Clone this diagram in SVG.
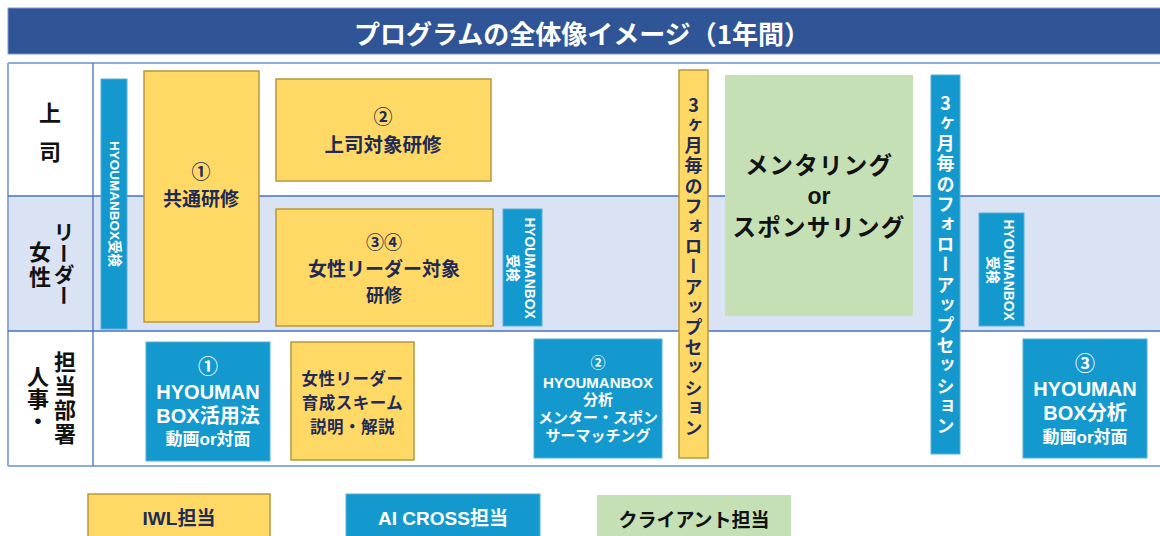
<svg xmlns="http://www.w3.org/2000/svg" width="1160" height="536" viewBox="0 0 1160 536">
<style>
.jp{font-family:"Noto Sans CJK JP","Noto Sans CJK SC",sans-serif;font-weight:bold}
.mx{font-family:"Liberation Sans","Noto Sans CJK JP",sans-serif;font-weight:bold}
.vt{writing-mode:vertical-rl;text-orientation:upright}
.yel{fill:#FFD966;stroke:#B8973D;stroke-width:1.5}
.blu{fill:#1399CE;stroke:#5AAEDB;stroke-width:1}
.grn{fill:#C5E0B4}
.navy{fill:#1F2A55}
.wht{fill:#FFFFFF}
.blk{fill:#111111}
.c{text-anchor:middle;dominant-baseline:central}
.line{stroke:#4472C4;stroke-width:1.3;fill:none}
.outer{stroke:#8FAADC;stroke-width:2;fill:none}
</style>
<rect width="1160" height="536" fill="#FFFFFF"/>
<g id="title">
<rect x="8" y="8" width="1160" height="46" fill="#2F5597" stroke="#7F9BD0" stroke-width="1"/>
<text class="jp c wht" x="582" y="32" font-size="26">プログラムの全体像イメージ（1年間）</text>
</g>
<g id="table">
<rect x="8" y="196" width="1160" height="135" fill="#DAE3F3"/>
<line class="outer" x1="8" y1="63" x2="1160" y2="63"/>
<line class="outer" x1="8" y1="63" x2="8" y2="466"/>
<line class="outer" x1="8" y1="466" x2="1160" y2="466"/>
<line class="line" x1="8" y1="196" x2="1160" y2="196"/>
<line class="line" x1="8" y1="331" x2="1160" y2="331"/>
<line class="line" x1="93" y1="63" x2="93" y2="466"/>
</g>
<g id="row-labels">
<text class="jp vt blk" x="50" y="102" font-size="22" letter-spacing="17">上司</text>
<text class="jp vt blk" x="64" y="222" font-size="21">リーダー</text>
<text class="jp vt blk" x="40" y="241" font-size="22" letter-spacing="3">女性</text>
<text class="jp vt blk" x="65" y="351" font-size="22" letter-spacing="2">担当部署</text>
<text class="jp vt blk" x="38" y="366" font-size="22">人事・</text>
</g>
<g id="hyoumanbox-left">
<rect class="blu" x="101" y="79" width="26" height="250"/>
<text class="mx c wht" transform="translate(114,204) rotate(90)" x="0" y="0" font-size="13.5">HYOUMANBOX受検</text>
</g>
<g id="kyotsu">
<rect class="yel" x="144" y="71" width="115" height="251"/>
<text class="jp c navy" x="201" y="170" font-size="19">①</text>
<text class="jp c navy" x="201" y="197.5" font-size="19">共通研修</text>
</g>
<g id="joshi">
<rect class="yel" x="276" y="79" width="215" height="102"/>
<text class="jp c navy" x="383" y="115.5" font-size="19">②</text>
<text class="jp c navy" x="383" y="143" font-size="19.5">上司対象研修</text>
</g>
<g id="josei-leader">
<rect class="yel" x="276" y="209" width="217" height="117"/>
<text class="jp c navy" x="384" y="240.5" font-size="18">③④</text>
<text class="jp c navy" x="384" y="267" font-size="19">女性リーダー対象</text>
<text class="jp c navy" x="384" y="294" font-size="18">研修</text>
</g>
<g id="hyoumanbox-mid">
<rect class="blu" x="503" y="209" width="39" height="117"/>
<text class="mx wht" transform="translate(521.5,268) rotate(90)" font-size="13.8" text-anchor="middle" dominant-baseline="central"><tspan x="0" y="-8.5">HYOUMANBOX</tspan><tspan x="0" y="8.5">受検</tspan></text>
</g>
<g id="follow-1">
<rect class="yel" x="679" y="70" width="29" height="388"/>
<text class="jp vt navy" x="693.5" y="96" font-size="18" letter-spacing="2.2">3ヶ月毎のフォローアップセッション</text>
</g>
<g id="mentoring">
<rect class="grn" x="725" y="75" width="188" height="241"/>
<text class="jp c blk" x="819" y="164" font-size="23.5" letter-spacing="1.2">メンタリング</text>
<text class="mx c blk" x="819" y="195.5" font-size="23">or</text>
<text class="jp c blk" x="819" y="226" font-size="23.5" letter-spacing="1.2">スポンサリング</text>
</g>
<g id="follow-2">
<rect class="blu" x="931" y="75" width="29" height="379"/>
<text class="jp vt wht" x="945.5" y="94" font-size="18" letter-spacing="2.2">3ヶ月毎のフォローアップセッション</text>
</g>
<g id="hyoumanbox-right">
<rect class="blu" x="979" y="213" width="45" height="113"/>
<text class="mx wht" transform="translate(1001,270) rotate(90)" font-size="13.8" text-anchor="middle" dominant-baseline="central"><tspan x="0" y="-8">HYOUMANBOX</tspan><tspan x="0" y="8">受検</tspan></text>
</g>
<g id="katsuyo">
<rect class="blu" x="146" y="342" width="124" height="119"/>
<text class="mx c wht" x="208" y="367" font-size="20">①</text>
<text class="mx c wht" x="208" y="392" font-size="20">HYOUMAN</text>
<text class="mx c wht" x="208" y="416" font-size="20">BOX活用法</text>
<text class="mx c wht" x="208" y="439" font-size="17">動画or対面</text>
</g>
<g id="scheme">
<rect class="yel" x="291" y="342" width="123" height="118"/>
<text class="jp c navy" x="352.5" y="378" font-size="16.5" letter-spacing="0.5">女性リーダー</text>
<text class="jp c navy" x="352.5" y="402" font-size="16.5" letter-spacing="0.5">育成スキーム</text>
<text class="jp c navy" x="352.5" y="426" font-size="16.5" letter-spacing="0.5">説明・解説</text>
</g>
<g id="bunseki-2">
<rect class="blu" x="534" y="339" width="128" height="119"/>
<text class="mx c wht" x="598" y="362" font-size="15">②</text>
<text class="mx c wht" x="598" y="382" font-size="15">HYOUMANBOX</text>
<text class="mx c wht" x="598" y="399" font-size="15">分析</text>
<text class="mx c wht" x="598" y="417" font-size="15">メンター・スポン</text>
<text class="mx c wht" x="598" y="435" font-size="15">サーマッチング</text>
</g>
<g id="bunseki-3">
<rect class="blu" x="1023" y="339" width="124" height="119"/>
<text class="mx c wht" x="1085" y="364" font-size="20">③</text>
<text class="mx c wht" x="1085" y="389" font-size="20">HYOUMAN</text>
<text class="mx c wht" x="1085" y="413" font-size="20">BOX分析</text>
<text class="mx c wht" x="1085" y="437" font-size="17">動画or対面</text>
</g>
<g id="legend-iwl">
<rect class="yel" x="88" y="494" width="182" height="50"/>
<text class="mx c navy" x="179" y="518" font-size="19">IWL担当</text>
</g>
<g id="legend-aicross">
<rect class="blu" x="346" y="494" width="194" height="50"/>
<text class="mx c wht" x="443" y="518" font-size="19">AI CROSS担当</text>
</g>
<g id="legend-client">
<rect class="grn" x="597" y="495" width="194" height="50"/>
<text class="jp c blk" x="694" y="518" font-size="19">クライアント担当</text>
</g>
<g id="connectors"></g>
</svg>
